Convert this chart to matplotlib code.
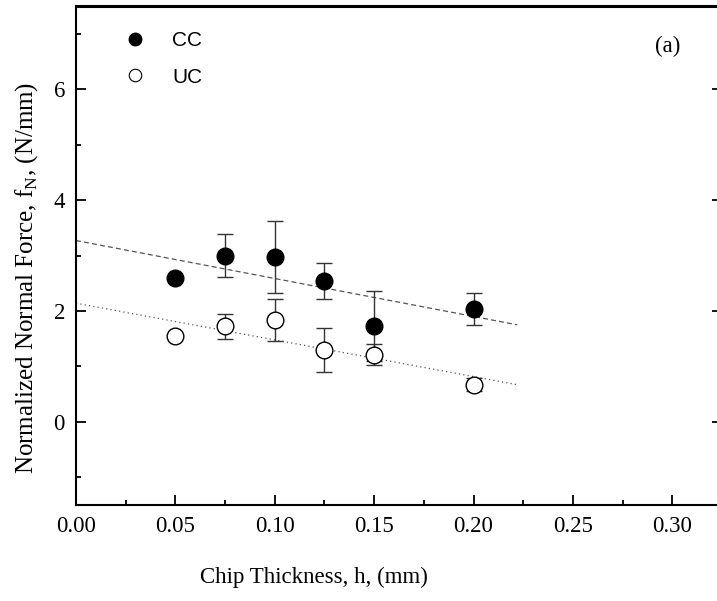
import numpy as np
import matplotlib
matplotlib.use('Agg')
import matplotlib.pyplot as plt
from matplotlib.lines import Line2D
from matplotlib.ticker import MultipleLocator, FormatStrFormatter

# chip thickness (mm) and normalized normal force (N/mm)
h = [0.05, 0.075, 0.10, 0.125, 0.15, 0.20]
fn_cc = [2.60, 3.00, 2.97, 2.54, 1.73, 2.04]
err_cc = [0.0, 0.38, 0.65, 0.32, 0.63, 0.29]
fn_uc = [1.54, 1.72, 1.84, 1.30, 1.21, 0.67]
err_uc = [0.0, 0.22, 0.38, 0.40, 0.19, 0.12]

# linear fit lines (end points)
fit_h = [0.0, 0.222]
fit_cc = [3.27, 1.75]
fit_uc = [2.14, 0.67]

plt.rcParams['font.family'] = 'Liberation Serif'

fig = plt.figure(figsize=(7.17, 6.01), dpi=100)
ax = fig.add_axes([76/717, 96/601, 646/717, 499/601])

ax.plot(fit_h, fit_cc, color='#555555', lw=0.9, ls=(0, (4, 2.5)), zorder=1)
ax.plot(fit_h, fit_uc, color='#555555', lw=0.9, ls=(0, (1, 2.5)), zorder=1)

ax.errorbar(h, fn_cc, yerr=err_cc, fmt='o', color='k', ms=12, ecolor='#333333',
            elinewidth=1, capsize=6, capthick=1, zorder=3)
ax.errorbar(h, fn_uc, yerr=err_uc, fmt='o', mfc='white', mec='k', mew=1, ms=12,
            ecolor='#333333', elinewidth=1, capsize=6, capthick=1, zorder=4)

ax.set_xlim(0, 0.325)
ax.set_ylim(-1.5, 7.5)
ax.xaxis.set_major_locator(MultipleLocator(0.05))
ax.xaxis.set_minor_locator(MultipleLocator(0.025))
ax.xaxis.set_major_formatter(FormatStrFormatter('%.2f'))
ax.yaxis.set_major_locator(MultipleLocator(2))
ax.yaxis.set_minor_locator(MultipleLocator(1))

for s in ['left', 'bottom', 'right']:
    ax.spines[s].set_linewidth(1.5)
ax.spines['top'].set_linewidth(2.2)

ax.tick_params(which='both', direction='in', top=False, right=True, width=1.3)
ax.tick_params(which='major', length=7, labelsize=16.5, pad=8)
ax.tick_params(which='minor', length=3.5)

ax.set_xlabel('Chip Thickness, h, (mm)', fontsize=16.5)
ax.xaxis.set_label_coords(0.369, -0.146)
ax.xaxis.label.set_va('center')
ax.set_ylabel('Normalized Normal Force, f$_{\\mathregular{N}}$, (N/mm)', fontsize=18)
ax.yaxis.set_label_coords(-0.076, 0.455)
ax.yaxis.label.set_va('center')

handles = [Line2D([], [], marker='o', ls='none', color='k', ms=9),
           Line2D([], [], marker='o', ls='none', mfc='white', mec='k', mew=0.8, ms=9)]
ax.legend(handles, ['CC', 'UC'], loc='upper left', bbox_to_anchor=(0.075, 0.95),
          frameon=False, prop={'family': 'Liberation Sans', 'size': 15},
          handlelength=1.0, handletextpad=1.28, labelspacing=0.85,
          borderpad=0, borderaxespad=0)

ax.text(0.916, 0.918, '(a)', transform=ax.transAxes, ha='center', va='center', fontsize=16.5)

fig.savefig('out.png', dpi=100)
